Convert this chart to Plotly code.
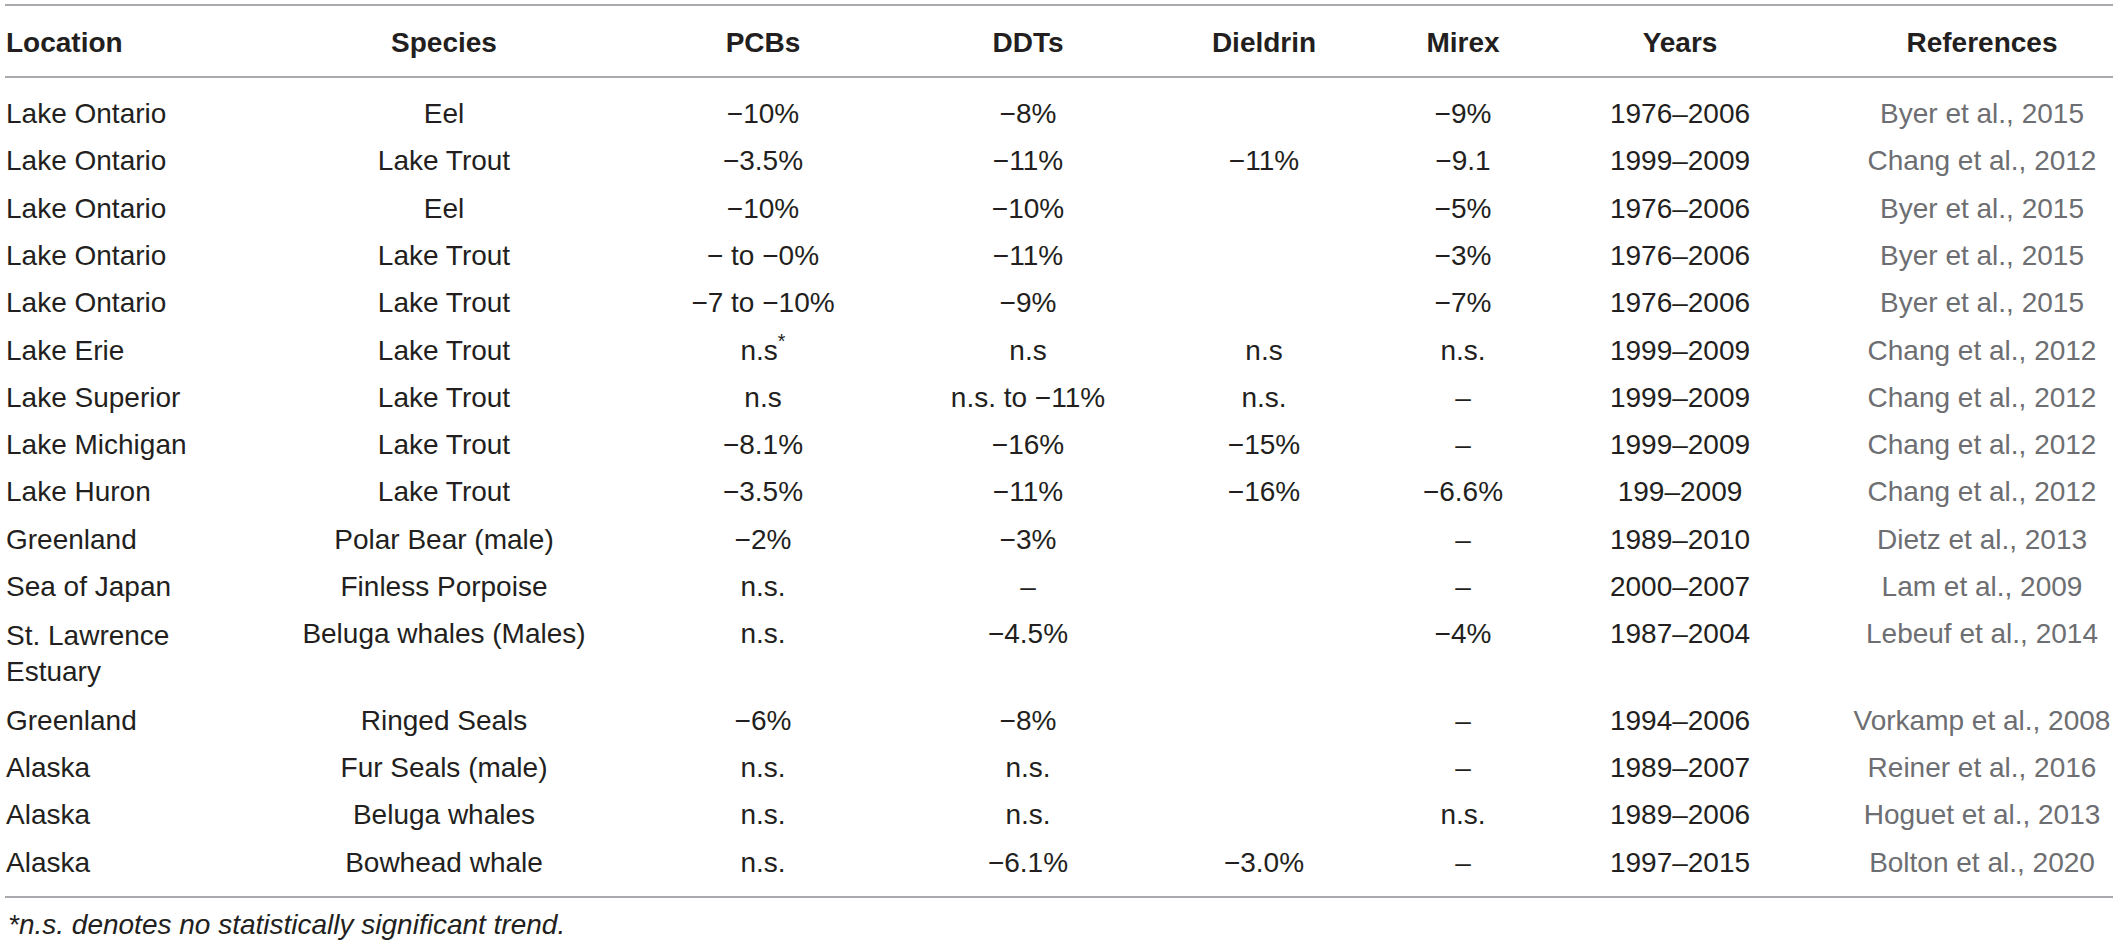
import plotly.graph_objects as go

# table content
headers = ["Location", "Species", "PCBs", "DDTs", "Dieldrin", "Mirex", "Years", "References"]

locations = [
    "Lake Ontario", "Lake Ontario", "Lake Ontario", "Lake Ontario", "Lake Ontario",
    "Lake Erie", "Lake Superior", "Lake Michigan", "Lake Huron", "Greenland",
    "Sea of Japan", "St. Lawrence<br>Estuary", "Greenland", "Alaska", "Alaska", "Alaska",
]
species = [
    "Eel", "Lake Trout", "Eel", "Lake Trout", "Lake Trout",
    "Lake Trout", "Lake Trout", "Lake Trout", "Lake Trout", "Polar Bear (male)",
    "Finless Porpoise", "Beluga whales (Males)", "Ringed Seals", "Fur Seals (male)",
    "Beluga whales", "Bowhead whale",
]
pcbs = [
    "−10%", "−3.5%", "−10%", "− to −0%", "−7 to −10%",
    "n.s<sup>*</sup>", "n.s", "−8.1%", "−3.5%", "−2%",
    "n.s.", "n.s.", "−6%", "n.s.", "n.s.", "n.s.",
]
ddts = [
    "−8%", "−11%", "−10%", "−11%", "−9%",
    "n.s", "n.s. to −11%", "−16%", "−11%", "−3%",
    "–", "−4.5%", "−8%", "n.s.", "n.s.", "−6.1%",
]
dieldrin = [
    "", "−11%", "", "", "",
    "n.s", "n.s.", "−15%", "−16%", "",
    "", "", "", "", "", "−3.0%",
]
mirex = [
    "−9%", "−9.1", "−5%", "−3%", "−7%",
    "n.s.", "–", "–", "−6.6%", "–",
    "–", "−4%", "–", "–", "n.s.", "–",
]
years = [
    "1976–2006", "1999–2009", "1976–2006", "1976–2006", "1976–2006",
    "1999–2009", "1999–2009", "1999–2009", "199–2009", "1989–2010",
    "2000–2007", "1987–2004", "1994–2006", "1989–2007", "1989–2006", "1997–2015",
]
references = [
    "Byer et al., 2015", "Chang et al., 2012", "Byer et al., 2015", "Byer et al., 2015",
    "Byer et al., 2015", "Chang et al., 2012", "Chang et al., 2012", "Chang et al., 2012",
    "Chang et al., 2012", "Dietz et al., 2013", "Lam et al., 2009", "Lebeuf et al., 2014",
    "Vorkamp et al., 2008", "Reiner et al., 2016", "Hoguet et al., 2013", "Bolton et al., 2020",
]
footnote = "*n.s. denotes no statistically significant trend."

# layout (pixels)
W, H = 2118, 946
col_x = [6, 444, 763, 1028, 1264, 1463, 1680, 1982]
header_y = 45
first_row_y = 116
row_step = 47.3
line_step = 39
FONT = "Liberation Sans, Arial, sans-serif"
TEXT = "#231f20"
GREY = "#6d6e71"
RULE = "#a7a9ac"

# row positions, the two-line row gets extra height
row_y, loc_y = [], []
y = first_row_y
for loc in locations:
    n = loc.count("<br>") + 1
    row_y.append(y)
    loc_y.append(y + (n - 1) * line_step / 2)
    y += row_step + (n - 1) * line_step

columns = [locations, species, pcbs, ddts, dieldrin, mirex, years, references]

fig = go.Figure()

# header row
for i, h in enumerate(headers):
    fig.add_trace(go.Scatter(
        x=[col_x[i]], y=[header_y], mode="text",
        text=[f"<b>{h}</b>"],
        textposition="middle right" if i == 0 else "middle center",
        textfont=dict(family=FONT, size=28, color=TEXT),
        cliponaxis=False, hoverinfo="skip",
    ))

# body columns (empty cells are skipped)
for i, col in enumerate(columns):
    ys = loc_y if i == 0 else row_y
    keep = [k for k, v in enumerate(col) if v]
    fig.add_trace(go.Scatter(
        x=[col_x[i]] * len(keep),
        y=[ys[k] for k in keep],
        mode="text",
        text=[col[k] for k in keep],
        textposition="middle right" if i == 0 else "middle center",
        textfont=dict(family=FONT, size=28, color=GREY if i == 7 else TEXT),
        cliponaxis=False, hoverinfo="skip",
    ))

# horizontal rules
for ry in [5, 77, 897]:
    fig.add_shape(type="line", x0=5, x1=2113, y0=ry, y1=ry,
                  xref="x", yref="y", line=dict(color=RULE, width=2))

fig.add_annotation(
    x=6, y=924, xref="x", yref="y", text=f"<i>{footnote}</i>",
    showarrow=False, xanchor="left", yanchor="middle",
    font=dict(family=FONT, size=28, color=TEXT),
)

fig.update_xaxes(range=[0, W], visible=False, fixedrange=True)
fig.update_yaxes(range=[H, 0], visible=False, fixedrange=True)
fig.update_layout(
    width=W, height=H,
    margin=dict(l=0, r=0, t=0, b=0),
    showlegend=False,
    plot_bgcolor="white",
    paper_bgcolor="white",
)

# drop the default page margin so the figure sits flush in the window
fig.write_html(
    "out.html",
    config={"displayModeBar": False},
    post_script="document.body.style.margin='0';",
)
